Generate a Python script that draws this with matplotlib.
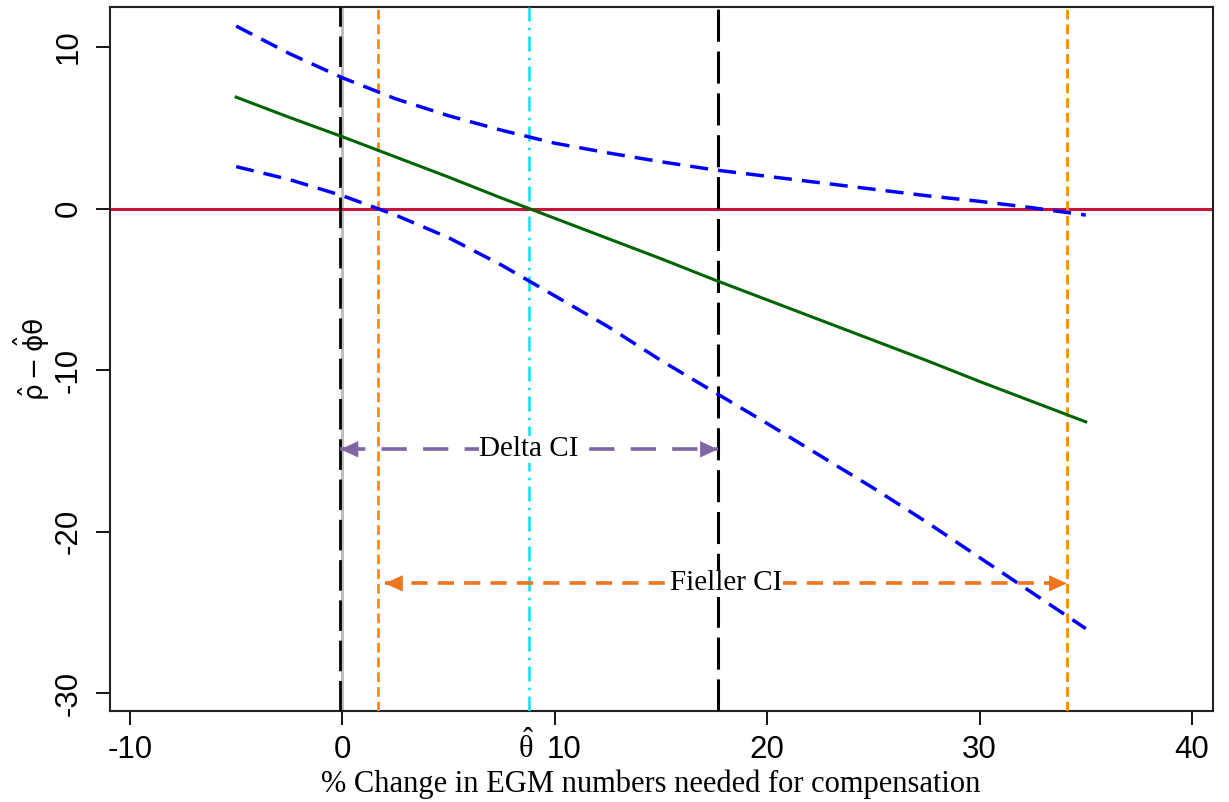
import matplotlib.pyplot as plt
from matplotlib.transforms import blended_transform_factory, ScaledTranslation
from matplotlib.patches import FancyArrowPatch

plt.rcParams['mathtext.default'] = 'regular'

# values
theta = [-5, -2.5, 0, 2.5, 5, 7.5, 10, 12.5, 15, 17.5, 20, 22.5, 25, 27.5, 30, 32.5, 35]
center = [6.9, 5.65, 4.45, 3.2, 1.95, 0.65, -0.6, -1.85, -3.1, -4.4, -5.65, -6.9, -8.15, -9.4, -10.7, -11.95, -13.2]
upper = [11.3, 9.6, 8.1, 6.8, 5.75, 4.85, 4.05, 3.45, 2.9, 2.4, 2.0, 1.6, 1.2, 0.8, 0.45, 0.05, -0.4]
lower = [2.6, 1.8, 0.8, -0.4, -1.8, -3.5, -5.4, -7.3, -9.4, -11.35, -13.3, -15.3, -17.3, -19.4, -21.6, -23.8, -26.0]

theta_hat = 8.81
delta_ci = [-0.09, 17.68]
fieller_ci = [1.68, 34.11]
delta_arrow = [-0.09, 17.68]
fieller_arrow = [2.0, 34.11]
delta_y = -14.9
fieller_y = -23.2

xticks = [-10, 0, 10, 20, 30, 40]
yticks = [-30, -20, -10, 0, 10]

sans = 'Liberation Sans'
serif = 'Liberation Serif'

fig = plt.figure(figsize=(12.29, 8.02), dpi=100)
ax = fig.add_axes([110 / 1229, 1 - 711 / 802, 1103 / 1229, 704 / 802])

# reference lines
ax.axhline(0, color='#C8143C', lw=2.2, zorder=2)
ax.axvline(0, color='#BEBEBE', lw=2.2, zorder=1)
ax.axvline(delta_ci[0], color='black', lw=2.0, dashes=(11, 3.5), zorder=3)
ax.axvline(delta_ci[1], color='black', lw=2.2, dashes=(10.5, 3.2), zorder=3)
for v in fieller_ci:
    ax.axvline(v, color='#FF8C00', lw=2.0, dashes=(3.5, 1.8), zorder=3)
ax.axvline(theta_hat, color='#00E5EE', lw=1.8, dashes=(6, 2.5, 1, 2.5), zorder=3)

# estimate and pointwise band
ax.plot(theta, center, color='#006400', lw=2.2, zorder=4)
ax.plot(theta, upper, color='#0000FF', lw=2.5, dashes=(5.2, 2.9), zorder=4)
ax.plot(theta, lower, color='#0000FF', lw=2.5, dashes=(5.2, 2.9), zorder=4)


def ci_arrow(xs, y, color, dashes, label):
    ax.plot(xs, [y, y], color=color, lw=2.6, dashes=dashes, zorder=5)
    for tip, tail in [(xs[0], xs[0] + 0.8), (xs[1], xs[1] - 0.8)]:
        ax.add_patch(FancyArrowPatch((tail, y), (tip, y), arrowstyle='-|>,head_length=12,head_width=5.5',
                                     color=color, lw=0.5, shrinkA=0, shrinkB=0, zorder=6))
    ax.text((xs[0] + xs[1]) / 2, y, label, fontsize=21, family=serif, ha='center', va='center',
            bbox=dict(facecolor='white', edgecolor='none', pad=0.5), zorder=7)


ci_arrow(delta_arrow, delta_y, '#7E66A4', (7, 4.5), 'Delta CI')
ci_arrow(fieller_arrow, fieller_y, '#EE7621', (4.5, 2.8), 'Fieller CI')

ax.set_xlim(-10.94, 40.99)
ax.set_ylim(-31.1, 12.48)
ax.set_xticks(xticks)
ax.set_xticklabels([str(t) for t in xticks], fontsize=22.5, family=sans)
ax.set_yticks(yticks)
ax.set_yticklabels([str(t) for t in yticks], fontsize=22.5, family=sans, rotation=90, va='center')
ax.tick_params(axis='both', length=10, width=1.3, color='black')
ax.tick_params(axis='x', pad=7)
ax.tick_params(axis='y', pad=9)
for s in ax.spines.values():
    s.set_linewidth(1.5)
    s.set_color('#222222')

# nudge the "10" label right so it clears theta-hat
lbl = ax.get_xticklabels()[2]
lbl.set_transform(lbl.get_transform() + ScaledTranslation(0.09, 0, fig.dpi_scale_trans))

# theta-hat marker under the axis
trans = blended_transform_factory(ax.transData, ax.transAxes)
ax.text(theta_hat - 0.15, -0.052, r'$\hat{\theta}$', transform=trans, ha='center', va='center',
        fontsize=22, family=serif)

ax.set_xlabel('% Change in EGM numbers needed for compensation', fontsize=22, family=serif)
ax.xaxis.set_label_coords(0.49, -0.083)
ax.set_ylabel(r'$\hat{\rho} - \hat{\phi}\theta$', fontsize=19, labelpad=1)

fig.savefig('out.png', dpi=100)
